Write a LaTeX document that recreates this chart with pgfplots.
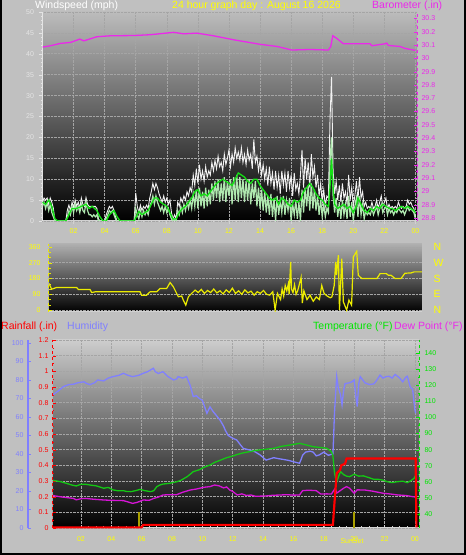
\documentclass[border=0pt]{standalone}
\usepackage{pgfplots}
\pgfplotsset{compat=1.18}
\usepackage{fontspec}
\setmainfont{Liberation Sans}
\definecolor{bggray}{RGB}{192,192,192}
\definecolor{gust}{RGB}{242,242,242}
\definecolor{palegreen}{RGB}{175,232,175}
\definecolor{avggreen}{RGB}{20,225,20}
\definecolor{baro}{RGB}{235,40,235}
\definecolor{wdir}{RGB}{235,235,0}
\definecolor{ytick}{RGB}{255,255,0}
\definecolor{hum}{RGB}{128,128,255}
\definecolor{temp}{RGB}{20,200,20}
\definecolor{tempt}{RGB}{0,230,0}
\definecolor{dew}{RGB}{215,20,215}
\definecolor{rain}{RGB}{255,0,0}
\definecolor{sun}{RGB}{170,160,0}
\definecolor{gridc}{RGB}{165,165,165}
\definecolor{wslab}{RGB}{228,228,228}
\definecolor{xaxc}{RGB}{210,210,210}
\definecolor{topA}{RGB}{188,188,188}
\definecolor{topB}{RGB}{175,175,175}
\definecolor{topC}{RGB}{205,205,205}
\pgfplotsset{
  base/.style={scale only axis, anchor=south west,
    /pgf/number format/assume math mode=true,
    ticklabel style={font=\fontsize{7}{8}\selectfont},
    axis line style={-},
    major tick length=3pt, minor tick length=1.5pt,
    grid style={densely dotted, gridc, line width=0.6pt},
  },
}
\begin{document}
\begin{tikzpicture}
\useasboundingbox (0,0) rectangle (466pt,555pt);
\fill[bggray] (0,0) rectangle (466pt,555pt);

% ---------------- Top panel: wind speed ----------------
\begin{axis}[base,
  at={(42.5pt,334pt)}, width=374.5pt, height=209pt,
  xmin=0, xmax=24.1, ymin=0, ymax=50,
  axis background/.style={top color=topA, bottom color=black},
  axis x line*=bottom, axis y line*=left,
  x axis line style={xaxc, line width=1pt},
  y axis line style={wslab, line width=1.2pt},
  xtick={2,4,...,24}, xticklabels={02,04,06,08,10,12,14,16,18,20,22,00},
  xticklabel style={text=ytick, yshift=-1pt}, x tick style={xaxc, line width=0.8pt},
  minor x tick num=3, tick align=outside,
  ytick={0,5,...,50}, yticklabel style={text=wslab, xshift=-2pt},
  y tick style={wslab}, minor y tick num=4,
  grid=major,
]
\addplot[gust, line width=0.9pt] coordinates {
(0.0,4.5)(0.1,5.5)(0.2,5.0)(0.3,5.5)(0.4,4.0)(0.5,5.5)(0.6,4.5)(0.7,3.0)(0.8,0)(0.9,0)
(1.0,0)(1.1,0)(1.2,0)(1.3,0)(1.4,0)(1.5,0)(1.6,2.6)(1.7,3.8)(1.8,2.5)(1.9,4.5)
(2.0,3.0)(2.1,5.0)(2.2,3.5)(2.3,4.5)(2.4,3.0)(2.5,5.5)(2.6,4.0)(2.7,3.5)(2.8,5.6)(2.9,4.0)
(3.0,3.5)(3.1,3.5)(3.2,3.5)(3.3,3.5)(3.4,3.5)(3.5,3.0)(3.6,0.5)(3.7,0)(3.8,0)(3.9,0)
(4.0,0)(4.1,1.5)(4.2,2.5)(4.3,3.5)(4.4,3.0)(4.5,3.5)(4.6,2.5)(4.7,1.0)(4.8,0)(4.9,0)
(5.0,0)(5.5,0)(5.9,0)(6.0,6.7)(6.1,3.5)(6.2,2.0)(6.3,3.8)(6.4,2.5)(6.5,3.5)(6.6,3.0)(6.7,3.8)(6.8,3.0)(6.9,5.5)
(7.0,7.0)(7.1,9.0)(7.2,7.5)(7.3,9.0)(7.4,8.0)(7.5,6.5)(7.6,5.5)(7.7,4.5)(7.8,6.0)(7.9,4.5)
(8.0,5.5)(8.1,4.0)(8.2,5.0)(8.3,2.0)(8.4,0.5)(8.5,1.5)(8.6,0.5)(8.7,4.5)(8.8,3.5)(8.9,5.5)
(9.0,4.5)(9.1,6.0)(9.2,5.0)(9.3,7.0)(9.4,6.0)(9.5,8.0)(9.6,7.0)(9.7,11.0)(9.8,8.5)(9.9,12.5)
(10.0,9.0)(10.1,13.5)(10.2,10.0)(10.3,12.0)(10.4,9.5)(10.5,13.0)(10.6,10.5)(10.7,12.0)(10.8,11.0)(10.9,14.0)
(11.0,12.0)(11.1,14.5)(11.2,12.5)(11.3,15.5)(11.4,13.0)(11.5,14.0)(11.6,12.0)(11.7,16.0)(11.8,13.5)(11.9,15.0)
(12.0,17.0)(12.1,13.0)(12.2,16.0)(12.3,14.0)(12.4,17.5)(12.5,15.0)(12.6,16.5)(12.7,14.5)(12.8,17.5)(12.9,14.0)
(13.0,16.0)(13.1,13.5)(13.2,17.0)(13.3,14.5)(13.4,16.0)(13.5,12.5)(13.6,19.5)(13.7,14.0)(13.8,15.5)(13.9,12.0)
(14.0,14.5)(14.1,11.0)(14.2,13.5)(14.3,10.0)(14.4,12.5)(14.5,8.5)(14.6,13.0)(14.7,9.0)(14.8,11.5)(14.9,7.5)
(15.0,12.0)(15.1,8.0)(15.2,11.0)(15.3,6.5)(15.4,12.0)(15.5,8.5)(15.6,11.5)(15.7,7.0)(15.8,12.0)(15.9,8.0)
(16.0,11.0)(16.1,6.0)(16.2,11.5)(16.3,7.5)(16.4,9.0)(16.5,6.5)(16.6,11.0)(16.7,17.0)(16.8,8.0)(16.9,15.0)
(17.0,10.0)(17.1,14.0)(17.2,8.0)(17.3,16.0)(17.4,10.5)(17.5,13.0)(17.6,8.0)(17.7,11.0)(17.8,6.0)(17.9,9.0)
(18.0,4.5)(18.1,7.5)(18.2,3.5)(18.3,6.0)(18.4,5.5)(18.5,24.0)(18.6,34.5)(18.7,12.0)(18.8,6.5)(18.9,9.5)
(19.0,5.0)(19.1,8.5)(19.2,4.5)(19.3,9.0)(19.4,5.5)(19.5,7.0)(19.6,4.0)(19.7,11.0)(19.8,5.0)(19.9,8.0)
(20.0,3.5)(20.1,6.0)(20.2,9.5)(20.3,5.0)(20.4,10.5)(20.5,5.5)(20.6,7.0)(20.7,3.5)(20.8,4.5)(20.9,3.0)
(21.0,3.5)(21.1,3.0)(21.2,4.5)(21.3,3.0)(21.4,3.5)(21.5,5.0)(21.6,3.0)(21.7,4.5)(21.8,6.0)(21.9,3.5)
(22.0,4.5)(22.1,5.5)(22.2,3.0)(22.3,4.0)(22.4,3.0)(22.5,3.5)(22.6,3.0)(22.7,3.5)(22.8,3.0)(22.9,4.5)
(23.0,3.5)(23.1,3.0)(23.2,3.5)(23.3,3.0)(23.4,3.5)(23.5,5.0)(23.6,4.0)(23.7,4.5)(23.8,3.5)(23.9,3.0)(24.0,1.0)
};
\addplot[palegreen, line width=1.2pt] coordinates {
(0.0,3.5)(0.1,4.5)(0.2,3.0)(0.3,4.5)(0.4,2.5)(0.5,4.0)(0.6,2.0)(0.7,1.0)(0.8,0)(1.5,0)
(1.6,1.0)(1.7,2.5)(1.8,1.5)(1.9,3.5)(2.0,2.0)(2.1,4.0)(2.2,2.5)(2.3,3.5)(2.4,2.0)(2.5,4.0)
(2.6,2.5)(2.7,2.0)(2.8,4.5)(2.9,2.5)(3.0,1.5)(3.1,1.5)(3.2,1.0)(3.3,1.5)(3.4,1.0)(3.5,1.5)
(3.6,0)(4.0,0)(4.1,0.5)(4.2,1.5)(4.3,2.5)(4.4,2.0)(4.5,2.5)(4.6,1.5)(4.7,0.5)(4.8,0)(5.9,0)
(6.0,3.0)(6.1,1.5)(6.2,0.5)(6.3,2.5)(6.4,1.0)(6.5,2.5)(6.6,1.5)(6.7,2.5)(6.8,1.5)(6.9,3.5)
(7.0,4.5)(7.1,6.0)(7.2,4.0)(7.3,6.0)(7.4,4.5)(7.5,3.5)(7.6,2.5)(7.7,3.5)(7.8,2.0)(7.9,3.5)
(8.0,2.0)(8.1,3.0)(8.2,1.5)(8.3,0.5)(8.4,0)(8.5,0.5)(8.6,0)(8.7,2.5)(8.8,1.5)(8.9,3.5)
(9.0,2.0)(9.1,4.0)(9.2,2.5)(9.3,4.5)(9.4,3.0)(9.5,5.0)(9.6,3.0)(9.7,6.5)(9.8,3.5)(9.9,7.5)
(10.0,3.0)(10.1,8.0)(10.2,3.5)(10.3,7.0)(10.4,3.0)(10.5,8.0)(10.6,3.5)(10.7,7.5)(10.8,4.0)(10.9,9.0)
(11.0,5.0)(11.1,9.5)(11.2,5.5)(11.3,10.0)(11.4,4.5)(11.5,9.0)(11.6,5.0)(11.7,10.5)(11.8,4.5)(11.9,9.5)
(12.0,6.0)(12.1,10.0)(12.2,4.0)(12.3,10.5)(12.4,5.0)(12.5,11.0)(12.6,4.5)(12.7,10.5)(12.8,5.5)(12.9,10.0)
(13.0,4.5)(13.1,9.5)(13.2,5.0)(13.3,10.0)(13.4,4.0)(13.5,9.0)(13.6,5.5)(13.7,9.5)(13.8,3.5)(13.9,8.0)
(14.0,3.0)(14.1,7.5)(14.2,2.5)(14.3,7.0)(14.4,2.0)(14.5,6.0)(14.6,1.5)(14.7,6.5)(14.8,1.0)(14.9,5.5)
(15.0,0)(15.1,6.0)(15.2,1.5)(15.3,5.0)(15.4,2.0)(15.5,6.0)(15.6,1.5)(15.7,5.0)(15.8,2.5)(15.9,5.5)
(16.0,0)(16.1,4.0)(16.2,1.5)(16.3,5.0)(16.4,0.5)(16.5,4.5)(16.6,0)(16.7,7.5)(16.8,2.0)(16.9,8.0)
(17.0,3.5)(17.1,8.5)(17.2,2.5)(17.3,9.0)(17.4,3.0)(17.5,7.5)(17.6,2.5)(17.7,6.0)(17.8,1.5)(17.9,5.0)
(18.0,1.0)(18.1,4.0)(18.2,1.0)(18.3,3.0)(18.4,2.0)(18.5,14.0)(18.6,20.0)(18.7,6.0)(18.8,2.0)(18.9,5.5)
(19.0,1.0)(19.1,4.5)(19.2,0.5)(19.3,5.0)(19.4,1.5)(19.5,4.0)(19.6,0.5)(19.7,6.0)(19.8,1.0)(19.9,4.5)
(20.0,0)(20.1,3.5)(20.2,5.5)(20.3,1.0)(20.4,6.0)(20.5,1.5)(20.6,4.0)(20.7,0.5)(20.8,2.5)(20.9,1.5)
(21.0,2.0)(21.1,1.5)(21.2,3.0)(21.3,1.5)(21.4,2.5)(21.5,3.5)(21.6,1.5)(21.7,3.0)(21.8,4.0)(21.9,2.0)
(22.0,3.0)(22.1,3.5)(22.2,1.5)(22.3,3.0)(22.4,2.0)(22.5,2.5)(22.6,1.5)(22.7,2.5)(22.8,2.0)(22.9,3.0)
(23.0,2.5)(23.1,2.0)(23.2,2.5)(23.3,1.5)(23.4,2.5)(23.5,3.5)(23.6,2.5)(23.7,3.0)(23.8,2.5)(23.9,2.0)(24.0,0.5)
};
\addplot[avggreen, line width=1.3pt] coordinates {
(0.0,4.5)(0.2,4.0)(0.4,5.0)(0.6,3.5)(0.8,0.5)(1.0,0)(1.5,0)(1.7,1.5)(1.9,3.0)(2.2,3.0)
(2.5,3.5)(2.8,4.0)(3.0,3.0)(3.2,3.5)(3.5,2.5)(3.7,1.0)(3.9,0)(4.1,0)(4.3,1.5)(4.6,2.5)
(4.8,1.0)(5.0,0)(5.9,0)(6.1,1.5)(6.2,2.3)(6.4,1.5)(6.6,2.0)(6.8,2.5)(7.0,4.0)(7.2,5.5)
(7.4,5.5)(7.6,4.5)(7.8,4.0)(8.0,3.5)(8.2,2.0)(8.4,0.5)(8.6,0.5)(8.8,2.0)(9.0,3.0)(9.2,3.5)
(9.4,4.5)(9.6,5.5)(9.8,7.0)(10.0,7.5)(10.2,6.0)(10.4,6.5)(10.6,6.0)(10.8,7.0)(11.0,8.0)(11.2,9.0)
(11.4,9.5)(11.6,10.0)(11.8,9.5)(12.0,9.0)(12.2,8.5)(12.4,10.0)(12.6,11.5)(12.8,11.0)(13.0,10.5)(13.2,9.5)
(13.4,9.0)(13.6,10.0)(13.8,10.0)(14.0,8.5)(14.2,7.5)(14.4,6.5)(14.6,5.5)(14.8,5.0)(15.0,5.5)(15.2,4.0)
(15.4,5.5)(15.6,5.0)(15.8,4.0)(16.0,3.5)(16.2,5.0)(16.4,4.5)(16.6,5.0)(16.8,7.0)(17.0,8.0)(17.2,9.0)
(17.4,8.0)(17.6,6.5)(17.8,5.5)(18.0,5.0)(18.2,4.0)(18.4,3.5)(18.5,8.0)(18.6,15.0)(18.7,8.0)(18.8,4.0)
(19.0,3.0)(19.2,3.5)(19.4,4.0)(19.6,3.0)(19.8,3.5)(20.0,2.0)(20.2,3.5)(20.3,5.5)(20.5,4.0)(20.7,2.5)
(20.9,2.0)(21.1,3.0)(21.3,2.5)(21.5,3.5)(21.7,3.0)(21.9,4.0)(22.1,3.5)(22.3,3.0)(22.5,3.0)(22.7,2.5)
(22.9,3.0)(23.1,3.5)(23.3,3.0)(23.5,3.5)(23.7,3.0)(23.9,2.5)(24.0,2.0)
};
\end{axis}
% barometer overlay
\begin{axis}[base,
  at={(42.5pt,334pt)}, width=374.5pt, height=209pt,
  xmin=0, xmax=24.1, ymin=28.777, ymax=30.349,
  axis x line=none, axis y line*=right,
  y axis line style={baro, dashed, line width=1pt},
  ytick={28.8,28.9,29,29.1,29.2,29.3,29.4,29.5,29.6,29.7,29.8,29.9,30,30.1,30.2,30.3},
  yticklabel style={text=baro, xshift=1pt}, y tick style={baro},
  minor y tick num=1,
]
\addplot[baro, line width=1.3pt] coordinates {
(0.0,30.085)(0.51,30.095)(1.16,30.113)(1.8,30.12)(2.23,30.138)(2.4,30.145)(2.66,30.132)
(3.5,30.163)(4.37,30.17)(5.87,30.172)(6.94,30.178)(8.44,30.196)(9.08,30.185)(9.94,30.19)
(11.0,30.17)(12.3,30.14)(14.0,30.106)(15.08,30.09)(16.04,30.063)(17.2,30.067)(18.4,30.063)
(18.55,30.09)(18.68,30.17)(18.94,30.15)(19.36,30.11)(20.0,30.11)(21.08,30.11)(21.19,30.095)
(22.05,30.11)(22.15,30.115)(22.26,30.097)(23.0,30.09)(23.33,30.075)(24.0,30.06)
};
\end{axis}

% ---------------- Middle panel: wind direction ----------------
\begin{axis}[base,
  at={(49pt,243pt)}, width=373pt, height=68pt,
  xmin=0, xmax=24, ymin=-11, ymax=377,
  axis background/.style={top color=topB, bottom color=black},
  axis x line*=bottom, axis y line*=left,
  x axis line style={xaxc, line width=1pt}, xtick=\empty,
  y axis line style={wdir, dashed, line width=1pt},
  ytick={0,90,180,270,360}, yticklabel style={text=ytick, xshift=-5pt},
  y tick style={wdir}, minor y tick num=2,
  ymajorgrids,
]
\addplot[wdir, line width=1.2pt] coordinates {
(0.0,152)(0.17,119)(0.49,129)(1.78,129)(1.89,117)(2.64,117)(2.75,100)(2.96,104)(5.86,104)
(5.96,85)(6.28,85)(6.5,104)(6.93,104)(7.14,123)(7.57,123)(7.79,157)(8.0,133)(8.32,76)
(8.54,80)(8.64,57)(8.8,28)(8.97,76)(9.18,95)(9.4,114)(9.6,100)(9.8,118)(10.0,95)(10.2,112)
(10.4,100)(10.6,120)(10.8,98)(11.0,110)(11.2,92)(11.4,115)(11.6,100)(11.8,125)(12.0,95)
(12.2,110)(12.4,90)(12.6,115)(12.8,98)(13.0,108)(13.2,85)(13.4,105)(13.6,95)(13.8,112)
(14.0,90)(14.2,85)(14.4,105)(14.55,0)(14.7,95)(14.9,60)(15.0,120)(15.1,80)(15.2,140)
(15.3,110)(15.4,150)(15.45,90)(15.55,275)(15.6,120)(15.7,100)(15.8,145)(15.9,90)(16.0,110)
(16.22,186)(16.3,40)(16.4,110)(16.6,60)(16.8,85)(17.0,50)(17.2,75)(17.4,60)(17.55,140)
(17.7,95)(17.9,80)(18.1,70)(18.2,75)(18.35,140)(18.45,275)(18.5,200)(18.62,313)(18.69,0)
(18.84,294)(18.94,47)(19.15,0)(19.3,57)(19.47,28)(19.58,303)(19.8,335)(19.9,199)(20.12,180)
(21.1,180)(21.3,208)(21.7,208)(21.84,199)(22.0,199)(22.27,180)(22.65,180)(22.9,210)(23.3,212)
(23.5,218)(24.0,218)
};
\end{axis}
% compass letters
\begin{axis}[base,
  at={(49pt,243pt)}, width=373pt, height=68pt,
  xmin=0, xmax=24, ymin=-11, ymax=377,
  axis x line=none, axis y line*=right,
  y axis line style={draw=none}, y tick style={draw=none},
  ytick={0,90,180,270,360}, yticklabels={N,E,S,W,N},
  yticklabel style={text=ytick, font=\fontsize{10.5}{11}\selectfont, xshift=8pt},
]
\end{axis}

% ---------------- Bottom panel ----------------
\begin{axis}[base,
  at={(53pt,27pt)}, width=366pt, height=188pt,
  xmin=0.16, xmax=24.27, ymin=0, ymax=1.2,
  axis background/.style={top color=topC, bottom color=black},
  axis x line*=bottom, axis y line*=left,
  x axis line style={xaxc, line width=1pt},
  y axis line style={rain, dashed, line width=1pt},
  xtick={2,4,...,24}, xticklabels={02,04,06,08,10,12,14,16,18,20,22,00},
  xticklabel style={text=ytick, yshift=-5pt}, x tick style={xaxc, line width=0.8pt},
  minor x tick num=3,
  ytick={0,0.1,0.2,0.3,0.4,0.5,0.6,0.7,0.8,0.9,1,1.1,1.2},
  yticklabel style={text=rain, xshift=-1pt}, y tick style={rain},
  minor y tick num=1,
  grid=major,
]
\addplot[sun, line width=1.3pt] coordinates {(5.82,0)(5.82,0.1)};
\addplot[sun, line width=1.3pt] coordinates {(19.99,0)(19.99,0.1)};
\end{axis}
% humidity
\begin{axis}[base,
  at={(53pt,27pt)}, width=366pt, height=188pt,
  xmin=0.16, xmax=24.27, ymin=0, ymax=101.6, axis lines=none,
]
\addplot[hum, line width=1.3pt] coordinates {
(0.16,72)(0.29,72.8)(0.5,74)(0.84,76.4)(1.2,77.5)(1.5,77.7)(1.8,78.5)(2.2,79)(2.4,78)
(2.6,77.5)(2.9,78.5)(3.1,80)(3.5,79.5)(3.8,81)(4.1,81.8)(4.5,82.5)(4.8,83.6)(5.1,82.5)
(5.4,81.8)(5.8,82.5)(6.1,83.6)(6.4,84.5)(6.77,86.3)(6.9,84.5)(7.1,83.5)(7.4,84.5)(7.7,82)
(8.1,80)(8.3,80.5)(8.4,81.8)(8.7,81)(8.96,81.8)(9.2,77)(9.4,71)(9.6,71.5)(9.8,70)(10.0,69)
(10.3,62)(10.5,65.5)(10.7,63)(11.0,60)(11.16,58.4)(11.4,55)(11.5,53)(11.7,50)(12.0,48.5)
(12.26,47.6)(12.5,45)(12.7,43)(13.1,42.2)(13.4,41.5)(13.8,39.5)(14.2,36.7)(14.7,38)(15.0,37.5)
(15.3,37.1)(15.7,36.5)(16.0,35.8)(16.4,35)(16.5,37)(16.6,39.3)(16.8,41)(17.1,41.5)(17.3,41)
(17.5,39)(17.7,39.5)(18.0,41)(18.3,39.3)(18.6,40)(18.65,50)(18.7,62)(18.85,81.8)(18.95,76)
(19.1,72)(19.2,66.5)(19.3,74)(19.4,78)(19.7,78.5)(19.85,79)(20.0,80)(20.1,72)(20.2,65.6)
(20.3,78)(20.4,81.8)(20.7,78.5)(21.0,77.5)(21.3,77.9)(21.5,80)(21.7,82.6)(21.9,81)(22.1,81.8)
(22.3,82)(22.5,81)(22.7,83)(23.0,81)(23.2,79)(23.4,81.5)(23.5,82)(23.7,76)(23.85,75)(24.0,63.8)(24.05,62)
};
\end{axis}
% temperature & dew point
\begin{axis}[base,
  at={(53pt,27pt)}, width=366pt, height=188pt,
  xmin=0.16, xmax=24.27, ymin=31.3, ymax=148.1,
  axis x line=none, axis y line*=right,
  y axis line style={tempt, dashed, line width=1pt},
  ytick={40,50,...,140}, yticklabel style={text=tempt, xshift=2pt}, y tick style={tempt},
  minor y tick num=1,
]
\addplot[temp, line width=1.3pt] coordinates {
(0.16,61)(0.29,60.7)(0.7,60)(1.06,59)(1.4,58)(1.7,57.4)(2.0,58.5)(2.3,58.5)(2.6,58)(3.0,57.5)
(3.5,56)(3.8,56.5)(4.1,55)(4.4,54.5)(4.8,54.5)(5.0,54)(5.3,53.9)(5.6,54.5)(5.9,55.3)(6.2,54.5)
(6.6,53.9)(6.8,54.5)(7.0,57)(7.2,58)(7.4,58.6)(7.8,59)(8.3,60)(8.6,61)(9.0,63.2)(9.4,66.3)
(9.8,67.5)(10.1,69)(10.5,70.4)(10.8,72)(11.2,73.5)(11.6,75)(12.0,76)(12.3,77)(12.7,78)
(13.1,78.7)(13.5,79.5)(14.0,80)(14.7,80.8)(15.2,82)(15.8,82.9)(16.4,83.9)(16.8,83)(17.3,81.8)
(17.8,81.3)(18.2,80.8)(18.5,78.7)(18.6,76)(18.7,66)(18.8,61)(18.85,60)(19.0,64)(19.1,66.3)
(19.3,64.5)(19.5,63.5)(19.7,63.2)(20.0,64.7)(20.3,63.5)(20.6,63.7)(21.0,62.5)(21.3,61.5)
(21.6,61.5)(21.9,61)(22.2,60)(22.5,59.5)(22.8,60)(23.2,60.4)(23.5,59.5)(23.7,60.5)(23.95,62.2)(24.1,65)
};
\addplot[dew, line width=1.3pt] coordinates {
(0.16,51.5)(0.29,51.2)(0.8,50.5)(1.5,49.7)(1.7,48.8)(2.0,49.5)(2.3,49.7)(2.8,49.2)(3.5,48.7)
(4.0,48.5)(4.8,48.3)(5.1,47.5)(5.4,46.6)(5.7,47.2)(6.1,48.7)(6.5,48.5)(6.8,49.7)(7.1,50.5)
(7.4,51.8)(7.8,52)(8.3,52)(8.7,53.5)(9.2,54.9)(9.6,55.5)(10.1,56.6)(10.5,57)(10.8,58)(11.1,57.5)
(11.4,56.2)(11.6,56.8)(11.8,54.9)(12.0,54)(12.3,51.8)(12.6,52.5)(12.9,51.5)(13.2,51.8)(13.5,51)
(14.2,51.2)(14.6,51.6)(15.1,51.8)(15.6,52)(16.0,51.7)(16.4,51.8)(16.6,54.5)(17.0,54.8)(17.5,54.5)
(17.8,52.4)(18.2,52.5)(18.5,52.4)(18.75,56)(18.85,53)(19.0,54)(19.3,56)(19.5,57)(19.7,56)
(20.0,52.9)(20.2,55)(20.7,54.9)(21.2,54.2)(21.9,52.9)(22.4,52.4)(22.9,51.8)(23.4,51.5)(23.9,50.7)(24.1,50.5)
};
\end{axis}
% rainfall on top
\begin{axis}[base,
  at={(53pt,27pt)}, width=366pt, height=188pt,
  xmin=0.16, xmax=24.27, ymin=0, ymax=1.2, axis lines=none,
]
\addplot[rain, line width=2.2pt] coordinates {
(0.16,0.004)(6.0,0.004)(6.1,0.02)(18.6,0.02)(18.7,0.16)(18.85,0.35)(19.07,0.37)(19.15,0.40)
(19.4,0.41)(19.5,0.444)(24.05,0.444)(24.1,0.004)
};
\end{axis}
% humidity ruler
\begin{axis}[base,
  at={(28pt,27pt)}, width=1pt, height=188pt,
  xmin=0, xmax=1, ymin=0, ymax=101.6,
  axis x line=none, axis y line*=left,
  y axis line style={hum, line width=1.5pt},
  ytick={0,10,...,100}, yticklabel style={text=hum, xshift=-1pt}, y tick style={hum},
  minor y tick num=1,
]
\end{axis}

% titles
\node[anchor=west, text=white, font=\fontsize{10.5}{12}\selectfont, inner sep=0] at (35pt,549.5pt) {Windspeed (mph)};
\node[anchor=west, text=ytick, font=\fontsize{10.5}{12}\selectfont, inner sep=0] at (172pt,549.5pt) {24 hour graph day : August 16 2026};
\node[anchor=west, text=baro, font=\fontsize{10.5}{12}\selectfont, inner sep=0] at (372pt,549.5pt) {Barometer (.in)};
\node[anchor=west, text=rain, font=\fontsize{10.5}{12}\selectfont, inner sep=0] at (1pt,228pt) {Rainfall (.in)};
\node[anchor=west, text=hum, font=\fontsize{10.5}{12}\selectfont, inner sep=0] at (67pt,228pt) {Humidity};
\node[anchor=west, text=tempt, font=\fontsize{10.5}{12}\selectfont, inner sep=0] at (313pt,228pt) {Temperature (°F)};
\node[anchor=west, text=baro, font=\fontsize{10.5}{12}\selectfont, inner sep=0] at (394pt,228pt) {Dew Point (°F)};
\node[text=ytick, font=\fontsize{7}{8}\selectfont, inner sep=0] at (352pt,14pt) {SunSet};
\draw[black, line width=2pt] (1pt,555pt) -- (1pt,1pt) -- (465pt,1pt) -- (465pt,555pt);
\end{tikzpicture}
\end{document}
